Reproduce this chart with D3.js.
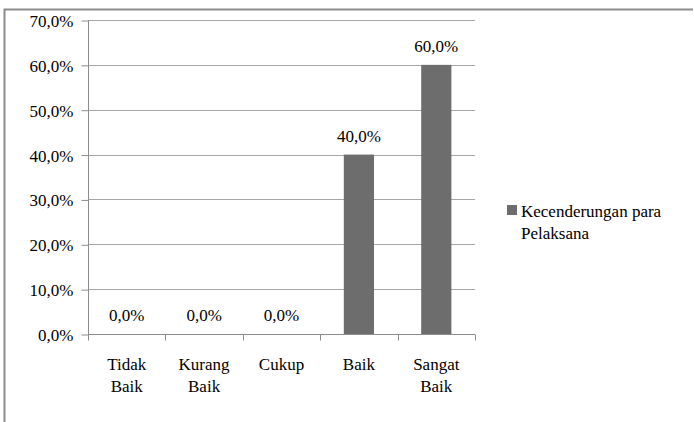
<!DOCTYPE html>
<html>
<head>
<meta charset="utf-8">
<script src="https://cdn.jsdelivr.net/npm/d3@7"></script>
<style>
  body { margin: 0; background: #fff; }
</style>
</head>
<body>
<svg id="chart"></svg>
<script>
// data
const categories = [["Tidak", "Baik"], ["Kurang", "Baik"], ["Cukup"], ["Baik"], ["Sangat", "Baik"]];
const values = [0, 0, 0, 40, 60];
const yTicks = [0, 10, 20, 30, 40, 50, 60, 70];
const seriesName = ["Kecenderungan para", "Pelaksana"];

const width = 694, height = 422;
const margin = { top: 20, bottom: 88, left: 88, right: 219 };
const FONT = '"Liberation Serif"';

const svg = d3.select("#chart").attr("width", width).attr("height", height);

// outer frame
svg.append("path")
  .attr("d", `M4.5,${height} V9.5 H${width - 1}`)
  .attr("fill", "none")
  .attr("stroke", "#8c8c8c")
  .attr("stroke-width", 2);

const keys = categories.map((c) => c.join(" "));
const x = d3.scaleBand().domain(keys).range([margin.left, width - margin.right]);
const y = d3.scaleLinear().domain([0, 70]).range([height - margin.bottom, margin.top]);
const fmt = (v) => v.toFixed(1).replace(".", ",") + "%";

// grid
svg.append("g")
  .selectAll("line")
  .data(yTicks.slice(1))
  .join("line")
  .attr("x1", margin.left)
  .attr("x2", width - margin.right)
  .attr("y1", (d) => Math.round(y(d)) + 0.5)
  .attr("y2", (d) => Math.round(y(d)) + 0.5)
  .attr("stroke", "#a6a6a6");

// y axis
svg.append("g")
  .attr("transform", `translate(${margin.left + 0.5},0.5)`)
  .call(d3.axisLeft(y).tickValues(yTicks).tickFormat(fmt).tickSize(7).tickPadding(8))
  .call((g) => g.selectAll("line,path").attr("stroke", "#8c8c8c"))
  .call((g) => g.select(".domain").attr("d", `M0,${y(0)}V${y(70)}`))
  .call((g) => g.selectAll("text")
    .style("font-family", FONT).style("font-size", "17px")
    .attr("fill", "#000").attr("dy", "0.35em"));

// x axis
const xg = svg.append("g")
  .attr("transform", `translate(0,${Math.round(y(0)) + 0.5})`);
xg.append("line")
  .attr("x1", margin.left).attr("x2", width - margin.right)
  .attr("stroke", "#8c8c8c");
xg.selectAll(".tk")
  .data(keys.concat(["end"]))
  .join("line")
  .attr("class", "tk")
  .attr("x1", (d, i) => Math.round(margin.left + i * x.bandwidth()) + 0.5)
  .attr("x2", (d, i) => Math.round(margin.left + i * x.bandwidth()) + 0.5)
  .attr("y1", 0).attr("y2", 6)
  .attr("stroke", "#8c8c8c");
xg.selectAll(".lbl")
  .data(categories)
  .join("text")
  .attr("class", "lbl")
  .attr("text-anchor", "middle")
  .style("font-family", FONT).style("font-size", "17px")
  .selectAll("tspan")
  .data((d, i) => d.map((t) => ({ t, k: keys[i] })))
  .join("tspan")
  .attr("x", (d) => x(d.k) + x.bandwidth() / 2)
  .attr("y", (d, j) => 35 + j * 22)
  .text((d) => d.t);

// bars
const barW = x.bandwidth() * 0.39;
svg.append("g")
  .selectAll("rect")
  .data(values)
  .join("rect")
  .attr("x", (d, i) => x(keys[i]) + (x.bandwidth() - barW) / 2)
  .attr("y", (d) => y(d))
  .attr("width", barW)
  .attr("height", (d) => y(0) - y(d))
  .attr("fill", "#6d6d6d");

// data labels
svg.append("g")
  .selectAll("text")
  .data(values)
  .join("text")
  .attr("x", (d, i) => x(keys[i]) + x.bandwidth() / 2)
  .attr("y", (d) => y(d) - 13)
  .attr("text-anchor", "middle")
  .style("font-family", FONT).style("font-size", "17px")
  .text((d) => fmt(d));

// legend
const lg = svg.append("g").attr("transform", "translate(507,205)");
lg.append("rect").attr("width", 10).attr("height", 10).attr("fill", "#6d6d6d");
lg.append("text")
  .style("font-family", FONT).style("font-size", "17px")
  .selectAll("tspan")
  .data(seriesName)
  .join("tspan")
  .attr("x", 14)
  .attr("y", (d, i) => 12 + i * 22)
  .text((d) => d);
</script>
</body>
</html>
